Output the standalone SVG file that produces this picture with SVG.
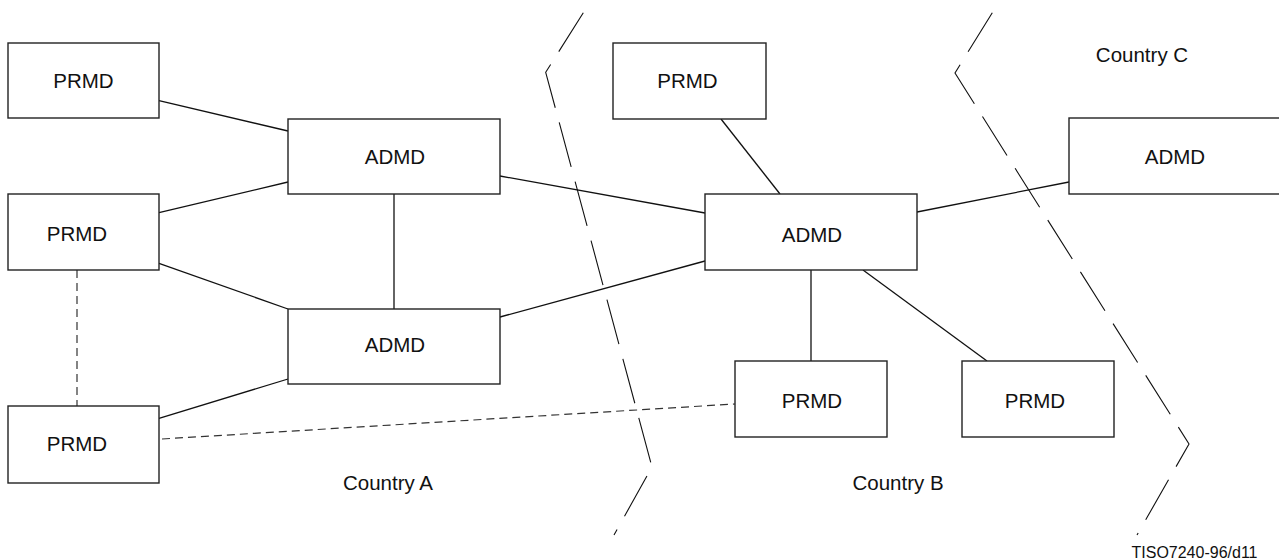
<svg xmlns="http://www.w3.org/2000/svg" width="1279" height="560" viewBox="0 0 1279 560">
<style>
.box{fill:#fff;stroke:#222;stroke-width:1.4}
.lbl{font-family:"Liberation Sans",Arial,sans-serif;font-size:20.5px;fill:#111;text-anchor:middle}
.link{stroke:#111;stroke-width:1.3;fill:none}
.dash{stroke:#333;stroke-width:1.2;fill:none;stroke-dasharray:8 5}
.border{stroke:#111;stroke-width:1.1;fill:none;stroke-dasharray:46 15.2}
</style>
<rect width="1279" height="560" fill="#fff"/>
<g id="borders">
<path class="border" d="M583.3,12.7 L545.7,72.3 L652,467 L614,535"/>
<path class="border" d="M992.3,12.7 L955,73 L1189,444 L1137,535"/>
</g>
<g id="connectors">
<line class="link" x1="159" y1="100.7" x2="288" y2="131"/>
<line class="link" x1="159" y1="212.7" x2="288" y2="182"/>
<line class="link" x1="394" y1="194" x2="394" y2="309"/>
<line class="link" x1="159" y1="263.3" x2="288" y2="309"/>
<line class="link" x1="159" y1="418.3" x2="288" y2="379"/>
<line class="link" x1="500" y1="176" x2="705" y2="213" stroke-width="1.7"/>
<line class="link" x1="500" y1="317" x2="705" y2="261"/>
<line class="link" x1="721" y1="119" x2="780" y2="194"/>
<line class="link" x1="917" y1="212" x2="1069" y2="182"/>
<line class="link" x1="811" y1="270" x2="811" y2="361"/>
<line class="link" x1="863" y1="270" x2="987" y2="361"/>
<line class="dash" x1="77" y1="270" x2="77" y2="406"/>
<line class="dash" x1="162" y1="439" x2="735" y2="404" stroke-dasharray="10 6"/>
</g>
<g id="prmd-a1"><rect class="box" x="8" y="43" width="151" height="75"/><text class="lbl" x="83.5" y="87.5">PRMD</text></g>
<g id="prmd-a2"><rect class="box" x="8" y="194" width="151" height="76"/><text class="lbl" x="77" y="241">PRMD</text></g>
<g id="prmd-a3"><rect class="box" x="8" y="406" width="151" height="77"/><text class="lbl" x="77" y="451">PRMD</text></g>
<g id="admd-a1"><rect class="box" x="288" y="119" width="212" height="75"/><text class="lbl" x="395" y="164.3">ADMD</text></g>
<g id="admd-a2"><rect class="box" x="288" y="309" width="212" height="75"/><text class="lbl" x="395" y="351.7">ADMD</text></g>
<g id="prmd-b0"><rect class="box" x="613" y="43" width="153" height="76"/><text class="lbl" x="687.5" y="87.5">PRMD</text></g>
<g id="admd-b"><rect class="box" x="705" y="194" width="212" height="76"/><text class="lbl" x="812" y="241.7">ADMD</text></g>
<g id="prmd-b1"><rect class="box" x="735" y="361" width="152" height="76"/><text class="lbl" x="812" y="407.7">PRMD</text></g>
<g id="prmd-b2"><rect class="box" x="962" y="361" width="152" height="76"/><text class="lbl" x="1035" y="407.7">PRMD</text></g>
<g id="admd-c"><rect class="box" x="1069" y="118" width="212" height="76"/><text class="lbl" x="1175" y="163.5">ADMD</text></g>
<g id="labels">
<text class="lbl" x="388" y="490">Country A</text>
<text class="lbl" x="898" y="490">Country B</text>
<text class="lbl" x="1142" y="61.5">Country C</text>
<text class="lbl" x="1194.5" y="558" style="font-size:16px">TISO7240-96/d11</text>
</g>
</svg>
